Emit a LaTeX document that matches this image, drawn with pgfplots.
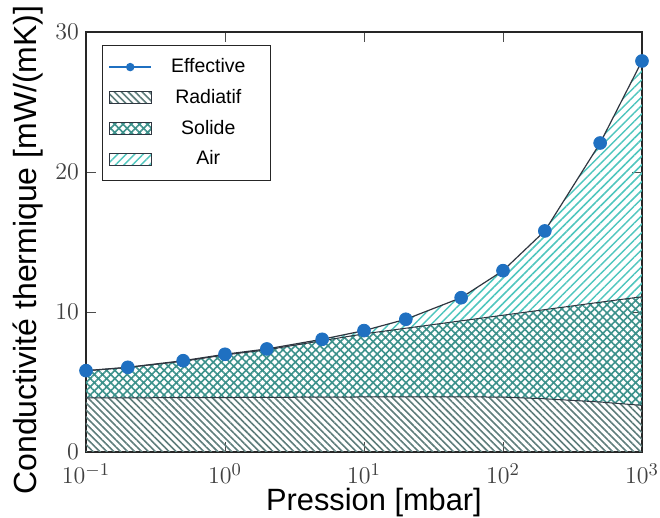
\documentclass[border=0pt]{standalone}
\usepackage{fontspec}
\setmainfont{Liberation Sans}
\usepackage{pgfplots}
\usepackage{pgfplotstable}
\pgfplotsset{compat=1.18}
\usepgfplotslibrary{fillbetween}
\usetikzlibrary{patterns.meta}
\definecolor{effblue}{HTML}{1F70C1}
\definecolor{radcol}{HTML}{5E7D7B}
\definecolor{solcol}{HTML}{3C918B}
\definecolor{aircol}{HTML}{4FC6BE}
\definecolor{edgecol}{HTML}{2F3640}

\pgfplotstableread{
p     rad   top    eff
0.1   3.86  5.80   5.81
0.2   3.87  6.04   6.05
0.5   3.88  6.48   6.52
1     3.89  6.93   6.98
2     3.90  7.30   7.36
5     3.92  7.95   8.05
10    3.93  8.44   8.67
20    3.94  8.84   9.48
50    3.94  9.37   11.02
100   3.92  9.77   12.95
200   3.80  10.17  15.79
500   3.57  10.70  22.07
1000  3.33  11.09  27.93
}\data

\pgfplotsset{
  myarea/.style={legend image code/.code={\draw[##1] (0pt,-3pt) rectangle (21pt,3pt);}},
  myline/.style={legend image code/.code={\draw[mark repeat=2,mark phase=2,##1] plot coordinates {(0pt,0pt) (10.5pt,0pt) (21pt,0pt)};}},
  radpat/.style={pattern={Lines[angle=-45,distance=2.45pt,line width=0.8pt]}, pattern color=radcol},
  solpat/.style={pattern={Hatch[angle=45,distance=2.9pt,line width=0.8pt]}, pattern color=solcol},
  airpat/.style={pattern={Lines[angle=45,distance=3pt,line width=0.75pt]}, pattern color=aircol},
}

\begin{document}
\begin{tikzpicture}
\begin{axis}[
  at={(0pt,0pt)}, anchor=south west,
  scale only axis, width=278pt, height=210pt,
  xmode=log, log basis x=10,
  xmin=0.1, xmax=1000, ymin=0, ymax=30,
  xtick={0.1,1,10,100,1000}, ytick={0,10,20,30},
  tick align=inside, major tick length=5pt, minor tick length=2.5pt,
  axis line style={line width=0.6pt, draw=black!85},
  tick style={black!70, line width=0.4pt},
  ticklabel style={font=\fontsize{12.3}{14}\selectfont, text=black!75},
  xticklabel style={yshift=-2.3pt},
  xlabel={Pression [mbar]},
  ylabel={Conductivité thermique [mW/(mK)]},
  xlabel style={font=\fontsize{15.4}{18}\selectfont, at={(axis description cs:0.518,-0.12)}, anchor=center},
  ylabel style={font=\fontsize{16}{19}\selectfont, at={(axis description cs:-0.104,0.481)}, anchor=center},
  legend style={at={(axis description cs:0.029,0.969)}, anchor=north west,
    draw=black!85, line width=0.5pt, font=\fontsize{9.75}{11}\selectfont,
    row sep=2.8pt, inner xsep=3pt, inner ysep=4.5pt},
  legend cell align=center,
]
\addlegendimage{myline, effblue, line width=0.6pt, mark=*, mark size=1.8pt}
\addlegendentry{\makebox[52.5pt]{Effective}}
\addlegendimage{myarea, draw=edgecol, line width=0.5pt, radpat}
\addlegendentry{\makebox[52.5pt]{Radiatif}}
\addlegendimage{myarea, draw=edgecol, line width=0.5pt, solpat}
\addlegendentry{\makebox[52.5pt]{Solide}}
\addlegendimage{myarea, draw=edgecol, line width=0.5pt, airpat}
\addlegendentry{\makebox[52.5pt]{Air}}

\addplot[forget plot, draw=none, name path=zero] coordinates {(0.1,0) (1000,0)};
\addplot[forget plot, edgecol, line width=0.5pt, name path=rad] table[x=p, y=rad] {\data};
\addplot[forget plot, edgecol, line width=0.5pt, name path=top] table[x=p, y=top] {\data};
\addplot[forget plot, edgecol, line width=0.6pt, name path=eff] table[x=p, y=eff] {\data};

\addplot[forget plot, draw=none, radpat] fill between[of=rad and zero];
\addplot[forget plot, draw=none, solpat] fill between[of=top and rad];
\addplot[forget plot, draw=none, airpat] fill between[of=eff and top];

\addplot[forget plot, only marks, mark=*, mark size=3.2pt, effblue] table[x=p, y=eff] {\data};
\end{axis}
\pgfresetboundingbox
\path (-43pt,-33pt) rectangle (287pt,226pt);
\end{tikzpicture}
\end{document}
